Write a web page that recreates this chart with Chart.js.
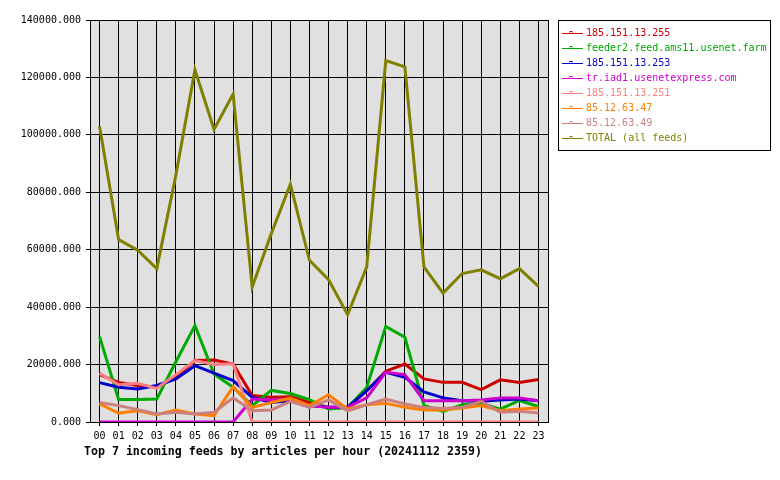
<!DOCTYPE html>
<html>
<head>
<meta charset="utf-8">
<script src="https://cdn.jsdelivr.net/npm/chart.js"></script>
<style>
  body { margin: 0; background: #fff; }
  #wrap { width: 780px; height: 480px; }
</style>
</head>
<body>
<div id="wrap"><canvas id="myChart" width="780" height="480"></canvas></div>
<script>
const hours = ['00','01','02','03','04','05','06','07','08','09','10','11',
               '12','13','14','15','16','17','18','19','20','21','22','23'];

const feedNames = [
  '185.151.13.255',
  'feeder2.feed.ams11.usenet.farm',
  '185.151.13.253',
  'tr.iad1.usenetexpress.com',
  '185.151.13.251',
  '85.12.63.47',
  '85.12.63.49',
  'TOTAL (all feeds)'
];
const feedColors = ['#cc0000', '#00aa00', '#0000cc', '#cc00cc', '#ff8080', '#ff8000', '#cc7f7f', '#808000'];

const feed255 = [16500, 13800, 12700, 12100, 15500, 21400, 21600, 20200, 9200, 8600, 8800, 6800,
                 5100, 5000, 10900, 17700, 20200, 15000, 13800, 13800, 11300, 14700, 13800, 14800];
const feederAms = [29800, 7800, 7800, 8000, 21000, 33600, 16700, 12100, 5700, 11000, 9900, 7800,
                   4500, 5000, 12000, 33300, 29500, 5800, 3700, 6000, 6500, 4500, 7500, 5400];
const feed253 = [13700, 12100, 11500, 12700, 15000, 19600, 17000, 14400, 8600, 6800, 7400, 5700,
                 5100, 5100, 10900, 17300, 15600, 10500, 8400, 7400, 7200, 7700, 8000, 7400];
const iad1 = [0, 0, 0, 0, 0, 0, 0, 0, 8000, 7700, 8000, 5700,
              5100, 5100, 8400, 17300, 16500, 7400, 7400, 7400, 7700, 8400, 8400, 7400];
const feed251 = [17000, 13000, 13500, 11700, 16500, 21400, 20000, 20300, 0, 0, 0, 0,
                 0, 0, 0, 0, 0, 0, 0, 0, 0, 0, 0, 0];
const feed47 = [6300, 3100, 3900, 2500, 4200, 2800, 2200, 12300, 5100, 6800, 8300, 5700,
                9500, 4500, 6000, 6500, 5100, 4200, 4200, 4900, 5700, 3900, 4500, 4900];
const feed49 = [6800, 5700, 4300, 2800, 3400, 2800, 3400, 8400, 3900, 4200, 7200, 5100,
                7700, 3900, 6000, 8000, 6300, 5100, 4700, 5100, 7200, 3400, 3700, 3100];
const total = [103000, 63500, 59800, 53400, 86000, 122700, 101900, 114200, 47000, 65600, 82800, 56300,
               49600, 37400, 54000, 125900, 123700, 54000, 44900, 51700, 53000, 49900, 53400, 47200];

const series = [feed255, feederAms, feed253, iad1, feed251, feed47, feed49, total];
const yTicks = [0, 20000, 40000, 60000, 80000, 100000, 120000, 140000];
const chartTitle = 'Top 7 incoming feeds by articles per hour (20241112 2359)';

const mono = '"DejaVu Sans Mono", "Liberation Mono", monospace';

// plot background, frame, boxed legend and bottom title
const plotBox = {
  id: 'plotBox',
  beforeDraw(chart) {
    const ctx = chart.ctx, a = chart.chartArea;
    ctx.save();
    ctx.fillStyle = '#fff';
    ctx.fillRect(0, 0, chart.width, chart.height);
    ctx.fillStyle = '#e0e0e0';
    ctx.fillRect(a.left, a.top, a.right - a.left, a.bottom - a.top);
    ctx.restore();
  },
  afterDraw(chart) {
    const ctx = chart.ctx, a = chart.chartArea;
    ctx.save();
    ctx.strokeStyle = '#000';
    ctx.lineWidth = 1;
    ctx.strokeRect(a.left + 0.5, a.top + 0.5, a.right - a.left, a.bottom - a.top);

    // legend
    const lx = a.right + 10, ly = a.top;
    ctx.fillStyle = '#fff';
    ctx.fillRect(lx, ly, 212, 130);
    ctx.strokeRect(lx + 0.5, ly + 0.5, 212, 130);
    ctx.font = '10px ' + mono;
    ctx.textBaseline = 'middle';
    chart.data.datasets.forEach((ds, i) => {
      const y = Math.round(ly + 13 + i * 15) + 0.5;
      ctx.strokeStyle = ds.borderColor;
      ctx.beginPath();
      ctx.moveTo(lx + 4, y);
      ctx.lineTo(lx + 25, y);
      ctx.stroke();
      ctx.strokeRect(lx + 12, y - 2, 2, 2);
      ctx.fillStyle = ds.borderColor;
      ctx.fillText(ds.label, lx + 28, y);
    });

    // title
    ctx.fillStyle = '#000';
    ctx.font = 'bold 11.6px ' + mono;
    ctx.textBaseline = 'middle';
    ctx.fillText(chartTitle, a.left - 6, 452);
    ctx.restore();
  }
};

const datasets = series.map((vals, i) => ({
  label: feedNames[i],
  data: vals,
  borderColor: feedColors[i],
  backgroundColor: feedColors[i],
  borderWidth: 3,
  pointRadius: 0,
  tension: 0,
  fill: false,
  order: series.length - i
}));

const config = {
  type: 'line',
  data: { labels: hours, datasets: datasets },
  options: {
    responsive: false,
    animation: false,
    devicePixelRatio: 1,
    layout: { padding: { top: 20, right: 232, left: 0, bottom: 0 } },
    plugins: {
      legend: { display: false },
      title: { display: false },
      tooltip: { enabled: false }
    },
    scales: {
      x: {
        type: 'category',
        offset: true,
        grid: { color: '#000', lineWidth: 1, offset: false, drawTicks: true, tickLength: 4, tickColor: '#000' },
        border: { color: '#000' },
        ticks: { color: '#000', font: { family: mono, size: 10 }, padding: 4, maxRotation: 0, autoSkip: false },
        afterFit(scale) { scale.height = 58; }
      },
      y: {
        min: 0,
        max: 140000,
        afterBuildTicks(scale) { scale.ticks = yTicks.map(v => ({ value: v })); },
        grid: { color: '#000', lineWidth: 1, drawTicks: true, tickLength: 4, tickColor: '#000' },
        border: { color: '#000' },
        ticks: {
          color: '#000',
          font: { family: mono, size: 10 },
          padding: 5,
          callback: v => Number(v).toFixed(3)
        },
        afterFit(scale) { scale.width = 90; }
      }
    }
  },
  plugins: [plotBox]
};

const myChart = new Chart(document.getElementById('myChart'), config);
</script>
</body>
</html>
